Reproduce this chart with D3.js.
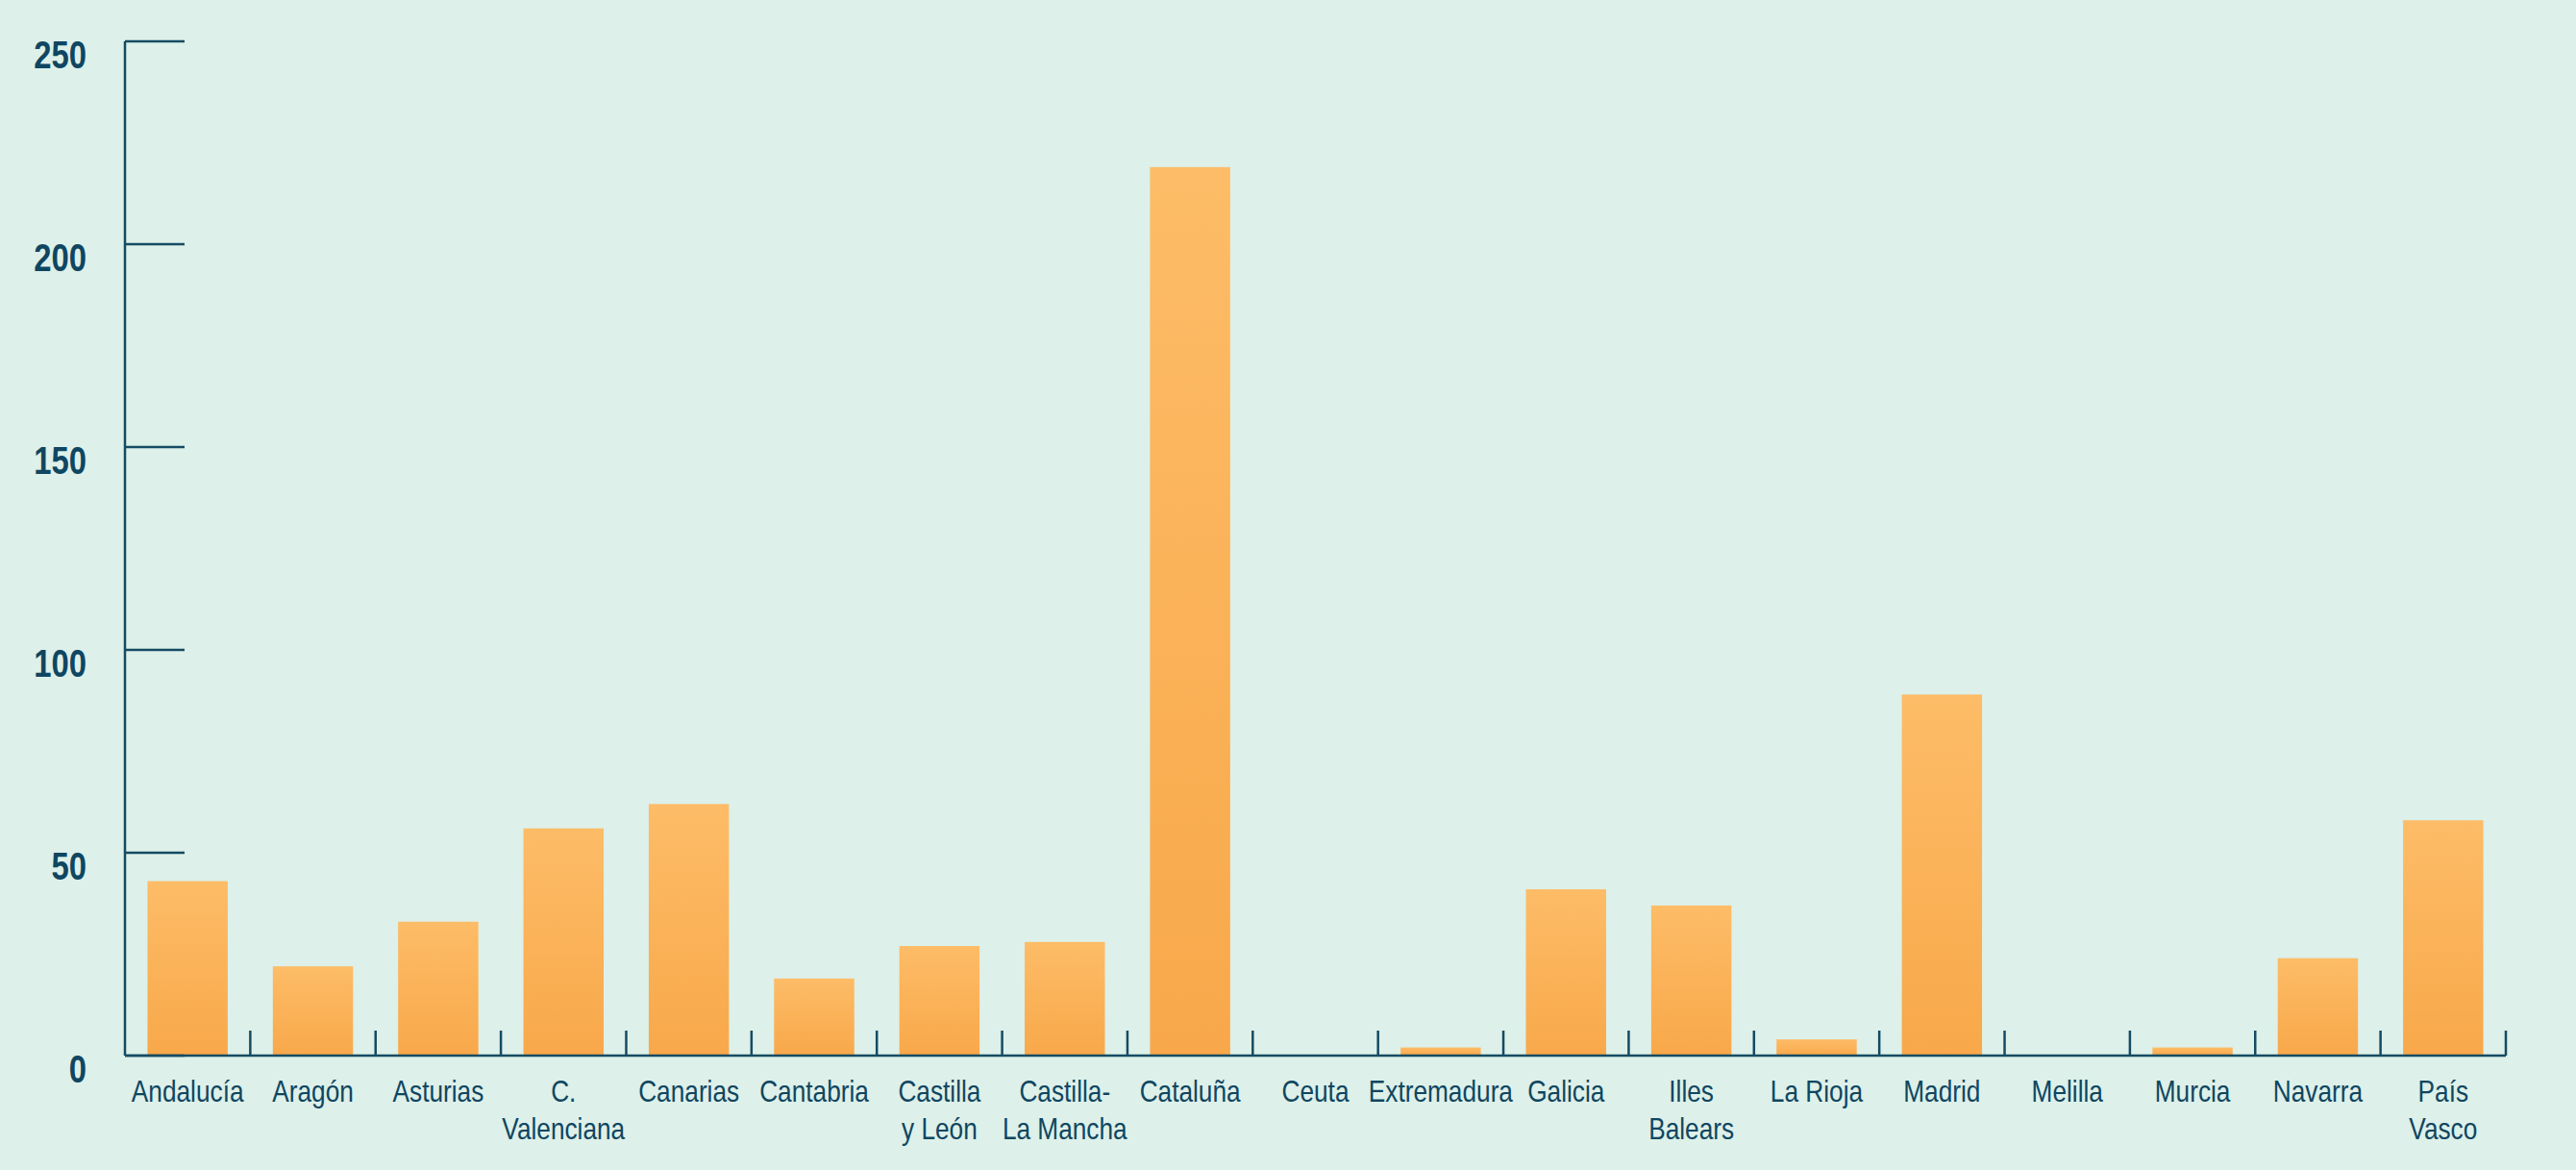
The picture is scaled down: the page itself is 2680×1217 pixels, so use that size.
<!DOCTYPE html>
<html>
<head>
<meta charset="utf-8">
<script src="https://cdn.jsdelivr.net/npm/d3@7/dist/d3.min.js"></script>
<style>
  html, body { margin: 0; padding: 0; background: #ddf0e9; }
  svg { display: block; }
</style>
</head>
<body>
<svg id="chart" width="2680" height="1217"></svg>
<script>
const categories = ["Andalucía","Aragón","Asturias","C.\nValenciana","Canarias","Cantabria","Castilla\ny León","Castilla-\nLa Mancha","Cataluña","Ceuta","Extremadura","Galicia","Illes\nBalears","La Rioja","Madrid","Melilla","Murcia","Navarra","País\nVasco"];
const values = [43, 22, 33, 56, 62, 19, 27, 28, 219, 0, 2, 41, 37, 4, 89, 0, 2, 24, 58];
const yTicks = [0, 50, 100, 150, 200, 250];

const axisColor = "#154b63";
const textColor = "#0f4661";
const font = "'Liberation Sans', Arial, sans-serif";
const squeeze = 0.82;

const svg = d3.select("#chart");
const mLeft = 130, mRight = 2607, mTop = 43, mBottom = 1098;

const x = d3.scaleBand().domain(categories).range([mLeft, mRight]).paddingInner(0.36).paddingOuter(0.18);
const y = d3.scaleLinear().domain([0, 250]).range([mBottom, mTop]);

const defs = svg.append("defs");
const grad = defs.append("linearGradient").attr("id", "barGrad")
  .attr("x1", 0).attr("y1", 0).attr("x2", 0).attr("y2", 1);
grad.append("stop").attr("offset", "0%").attr("stop-color", "#fdbc67");
grad.append("stop").attr("offset", "100%").attr("stop-color", "#f8a84a");

svg.append("rect").attr("width", 2680).attr("height", 1217).attr("fill", "#ddf0e9");

// bars
svg.append("g").selectAll("rect").data(values).join("rect")
  .attr("x", (d, i) => x(categories[i]))
  .attr("width", x.bandwidth())
  .attr("y", d => y(d))
  .attr("height", d => y(0) - y(d))
  .attr("fill", "url(#barGrad)");

// y axis
const yAxis = svg.append("g");
yAxis.append("line").attr("x1", mLeft).attr("x2", mLeft).attr("y1", y(250)).attr("y2", y(0))
  .attr("stroke", axisColor).attr("stroke-width", 2.5);
yAxis.selectAll("line.tick").data(yTicks).join("line").attr("class", "tick")
  .attr("x1", mLeft).attr("x2", mLeft + 62)
  .attr("y1", d => y(d)).attr("y2", d => y(d))
  .attr("stroke", axisColor).attr("stroke-width", 2.5);
yAxis.selectAll("text").data(yTicks).join("text")
  .attr("transform", d => `translate(90,${y(d) + 28}) scale(${squeeze},1)`)
  .attr("text-anchor", "end")
  .attr("font-family", font).attr("font-weight", "bold").attr("font-size", 40)
  .attr("fill", textColor)
  .text(d => d);

// x axis
const step = x.step();
const boundaries = d3.range(1, categories.length + 1).map(i => mLeft + i * step);
const xAxis = svg.append("g");
xAxis.append("line").attr("x1", mLeft).attr("x2", mRight).attr("y1", y(0)).attr("y2", y(0))
  .attr("stroke", axisColor).attr("stroke-width", 2.5);
xAxis.selectAll("line.tick").data(boundaries).join("line").attr("class", "tick")
  .attr("x1", d => d).attr("x2", d => d)
  .attr("y1", y(0)).attr("y2", y(0) - 26)
  .attr("stroke", axisColor).attr("stroke-width", 2.5);

const labels = xAxis.selectAll("text").data(categories).join("text")
  .attr("transform", d => `translate(${x(d) + x.bandwidth() / 2},1146) scale(${squeeze},1)`)
  .attr("text-anchor", "middle")
  .attr("font-family", font).attr("font-size", 32)
  .attr("fill", textColor);
labels.each(function(d) {
  const parts = d.split("\n");
  const t = d3.select(this);
  parts.forEach((p, i) => {
    t.append("tspan").attr("x", 0).attr("dy", i === 0 ? 0 : 39).text(p);
  });
});
</script>
</body>
</html>
